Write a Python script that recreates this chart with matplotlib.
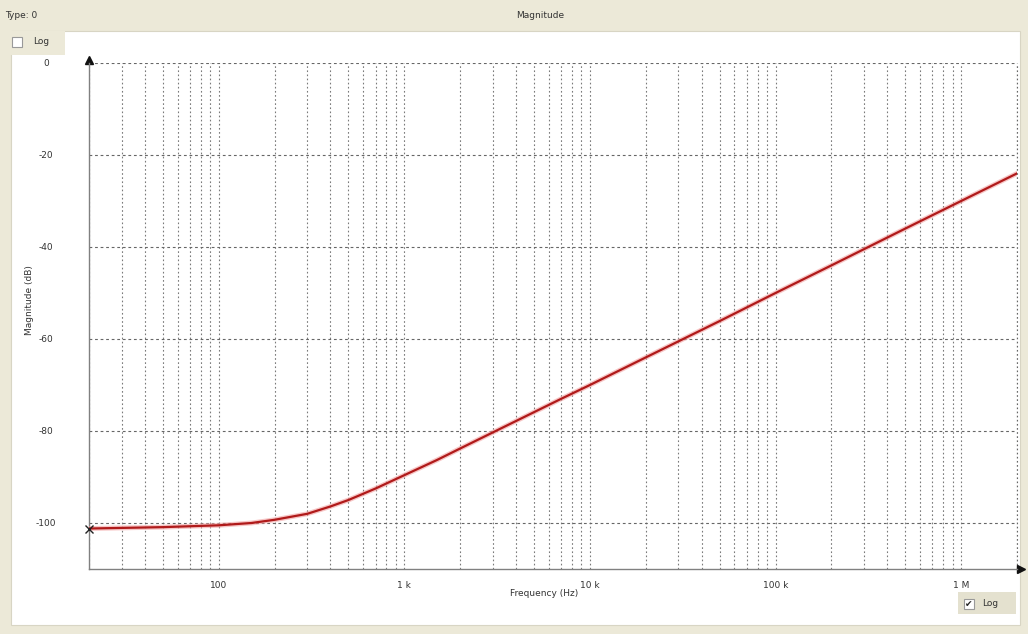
import numpy as np
import matplotlib
matplotlib.use("Agg")
import matplotlib.pyplot as plt
from matplotlib.patches import Rectangle

# Odziv (očitano sa slike)
freq_hz = [20, 50, 100, 150, 200, 300, 400, 500, 700, 1000, 1500, 2000,
           3000, 5000, 7000, 10e3, 20e3, 50e3, 100e3, 200e3, 500e3, 1e6, 2e6]
mag_db = [-101.2, -100.9, -100.5, -100.0, -99.3, -98.0, -96.4, -95.0, -92.5,
          -89.6, -86.3, -83.8, -80.3, -75.9, -73.0, -70.0, -64.0, -56.1,
          -50.0, -44.0, -36.0, -30.0, -24.0]

y_ticks = [0, -20, -40, -60, -80, -100]
y_labels = ["0", "-20", "-40", "-60", "-80", "-100"]
x_ticks = [100, 1e3, 10e3, 100e3, 1e6]
x_labels = ["100", "1 k", "10 k", "100 k", "1 M"]

W, H = 1028, 634
BEIGE = "#ece9d8"


def fx(x):
    return x / W


def fy(y):
    return 1 - y / H


fig = plt.figure(figsize=(W / 100, H / 100), dpi=100)
fig.patch.set_facecolor(BEIGE)

# bijeli panel i naslovna traka
fig.patches.append(Rectangle((fx(11), fy(625)), fx(1020 - 11), (625 - 31) / H,
                             transform=fig.transFigure, facecolor="white",
                             edgecolor="#d8d5c4", lw=0.8, zorder=0))
fig.patches.append(Rectangle((fx(5), fy(55)), fx(60), 24 / H,
                             transform=fig.transFigure, facecolor=BEIGE,
                             edgecolor="none", zorder=0))
fig.patches.append(Rectangle((fx(12), fy(47)), fx(10), 10 / H,
                             transform=fig.transFigure, facecolor="white",
                             edgecolor="#999999", lw=0.8, zorder=1))
fig.text(fx(33), fy(42), "Log", fontsize=6.5, color="#333333", va="center")

# checkbox dolje desno
fig.patches.append(Rectangle((fx(958), fy(614)), fx(58), 22 / H,
                             transform=fig.transFigure, facecolor="#e4e1cf",
                             edgecolor="none", zorder=0))
fig.patches.append(Rectangle((fx(964), fy(609)), fx(10), 10 / H,
                             transform=fig.transFigure, facecolor="white",
                             edgecolor="#999999", lw=0.8, zorder=1))
fig.text(fx(969), fy(604), "\u2714", fontsize=6.5, color="#222222",
         ha="center", va="center")
fig.text(fx(982), fy(604), "Log", fontsize=6.5, color="#333333", va="center")

fig.text(fx(5), fy(15), "Type: 0", fontsize=6.5, color="#333333", va="center")
fig.text(fx(540), fy(15), "Magnitude", fontsize=6.5, color="#333333",
         ha="center", va="center")

ax = fig.add_axes([fx(89), fy(569), fx(1017 - 89), (569 - 63) / H])
ax.set_facecolor("none")
ax.set_zorder(5)

ax.plot(freq_hz, mag_db, color="#f2a0a0", lw=3.5, alpha=0.6, zorder=3)
ax.plot(freq_hz, mag_db, color="#b01a1a", lw=1.6, zorder=4)
ax.plot(freq_hz[0], mag_db[0], marker="x", color="#222222", ms=6, mew=1.0,
        clip_on=False, zorder=5)

ax.set_xscale("log")
ax.set_xlim(20, 2e6)
ax.set_ylim(-110, 0)

minor = [m * 10 ** e for e in range(1, 7) for m in range(1, 10)
         if 20 <= m * 10 ** e <= 2e6] + [2e6]
ax.set_xticks(minor, minor=True)
ax.set_xticks(x_ticks)
ax.set_xticklabels(x_labels)
ax.set_yticks(y_ticks)
ax.set_yticklabels(y_labels, ha="center")

ax.grid(True, which="both", axis="x", color="#7a7a7a", lw=0.8,
        linestyle=(0, (1.5, 2.2)))
ax.grid(True, which="major", axis="y", color="#666666", lw=0.8,
        linestyle=(0, (2.5, 2.5)))
# desni rub je isto isprekidana linija
ax.axvline(2e6, color="#666666", lw=0.8, linestyle=(0, (1.5, 2.2)),
           clip_on=False)
ax.tick_params(which="both", length=0, labelsize=6.5, colors="#333333")
ax.tick_params(axis="y", pad=31)
ax.tick_params(axis="x", pad=9)

for s in ["top", "right"]:
    ax.spines[s].set_visible(False)
for s in ["left", "bottom"]:
    ax.spines[s].set_color("#808080")
    ax.spines[s].set_linewidth(1.0)

# strelice na osima
ax.plot([0], [1.006], marker="^", color="#111111", ms=6, transform=ax.transAxes,
        clip_on=False)
ax.plot([1.004], [0], marker=">", color="#111111", ms=6, transform=ax.transAxes,
        clip_on=False)

fig.text(fx(30), fy(300), "Magnitude (dB)", rotation=90, fontsize=6.5,
         color="#333333", ha="center", va="center")
fig.text(fx(544), fy(593), "Frequency (Hz)", fontsize=6.5, color="#333333",
         ha="center", va="center")

fig.savefig("out.png", dpi=100, facecolor=fig.get_facecolor())
